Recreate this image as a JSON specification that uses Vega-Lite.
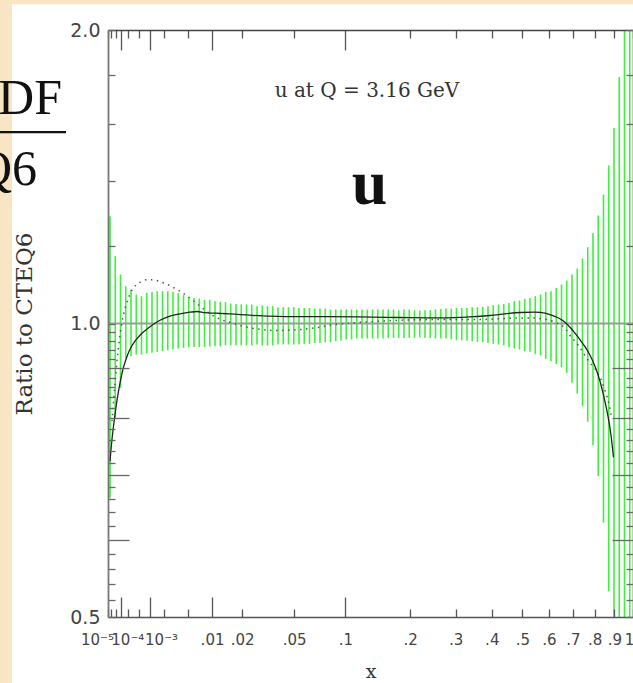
{
  "$schema": "https://vega.github.io/schema/vega-lite/v6.json",
  "width": 525,
  "height": 587,
  "autosize": {"type": "none"},
  "padding": {"left": 108, "top": 30, "right": 0, "bottom": 66},
  "background": "#f7e5c3",
  "config": {"view": {"stroke": null}},
  "datasets": {
    "bars": [
      {"x": 1.614e-5, "lo": 0.6624, "hi": 1.2884},
      {"x": 4.308e-5, "lo": 0.7996, "hi": 1.1723},
      {"x": 9.016e-5, "lo": 0.8589, "hi": 1.1227},
      {"x": 1.630e-4, "lo": 0.9220, "hi": 1.0921},
      {"x": 2.672e-4, "lo": 0.9257, "hi": 1.0836},
      {"x": 4.084e-4, "lo": 0.9294, "hi": 1.0709},
      {"x": 5.922e-4, "lo": 0.9294, "hi": 1.0666},
      {"x": 8.243e-4, "lo": 0.9316, "hi": 1.0750},
      {"x": 0.0011102, "lo": 0.9330, "hi": 1.0775},
      {"x": 0.0014556, "lo": 0.9352, "hi": 1.0792},
      {"x": 0.0018661, "lo": 0.9367, "hi": 1.0792},
      {"x": 0.0023473, "lo": 0.9389, "hi": 1.0792},
      {"x": 0.0029049, "lo": 0.9405, "hi": 1.0775},
      {"x": 0.0035444, "lo": 0.9427, "hi": 1.0742},
      {"x": 0.0042714, "lo": 0.9440, "hi": 1.0691},
      {"x": 0.0050918, "lo": 0.9456, "hi": 1.0649},
      {"x": 0.0060109, "lo": 0.9462, "hi": 1.0623},
      {"x": 0.0070344, "lo": 0.9462, "hi": 1.0608},
      {"x": 0.008168, "lo": 0.9462, "hi": 1.0573},
      {"x": 0.0094173, "lo": 0.9471, "hi": 1.0573},
      {"x": 0.010788, "lo": 0.9478, "hi": 1.0541},
      {"x": 0.012286, "lo": 0.9478, "hi": 1.0523},
      {"x": 0.013915, "lo": 0.9500, "hi": 1.0516},
      {"x": 0.015684, "lo": 0.9500, "hi": 1.0484},
      {"x": 0.017596, "lo": 0.9500, "hi": 1.0474},
      {"x": 0.019657, "lo": 0.9494, "hi": 1.0459},
      {"x": 0.021874, "lo": 0.9494, "hi": 1.0459},
      {"x": 0.024251, "lo": 0.9494, "hi": 1.0459},
      {"x": 0.026794, "lo": 0.9516, "hi": 1.0417},
      {"x": 0.029509, "lo": 0.9494, "hi": 1.0434},
      {"x": 0.032402, "lo": 0.9494, "hi": 1.0417},
      {"x": 0.035478, "lo": 0.9494, "hi": 1.0417},
      {"x": 0.038742, "lo": 0.9516, "hi": 1.0393},
      {"x": 0.042201, "lo": 0.9516, "hi": 1.0393},
      {"x": 0.04586, "lo": 0.9516, "hi": 1.0393},
      {"x": 0.049725, "lo": 0.9516, "hi": 1.0393},
      {"x": 0.053801, "lo": 0.9516, "hi": 1.0375},
      {"x": 0.058093, "lo": 0.9530, "hi": 1.0375},
      {"x": 0.062608, "lo": 0.9530, "hi": 1.0375},
      {"x": 0.067352, "lo": 0.9552, "hi": 1.0361},
      {"x": 0.072328, "lo": 0.9552, "hi": 1.0361},
      {"x": 0.077545, "lo": 0.9568, "hi": 1.0361},
      {"x": 0.083006, "lo": 0.9568, "hi": 1.0336},
      {"x": 0.088717, "lo": 0.9591, "hi": 1.0336},
      {"x": 0.094685, "lo": 0.9607, "hi": 1.0336},
      {"x": 0.100915, "lo": 0.9629, "hi": 1.0336},
      {"x": 0.107412, "lo": 0.9629, "hi": 1.0336},
      {"x": 0.114182, "lo": 0.9652, "hi": 1.0336},
      {"x": 0.121231, "lo": 0.9652, "hi": 1.0336},
      {"x": 0.128564, "lo": 0.9652, "hi": 1.0336},
      {"x": 0.136187, "lo": 0.9652, "hi": 1.0336},
      {"x": 0.144106, "lo": 0.9652, "hi": 1.0336},
      {"x": 0.152326, "lo": 0.9652, "hi": 1.0336},
      {"x": 0.160852, "lo": 0.9666, "hi": 1.0336},
      {"x": 0.169692, "lo": 0.9666, "hi": 1.0336},
      {"x": 0.178849, "lo": 0.9666, "hi": 1.0319},
      {"x": 0.18833, "lo": 0.9666, "hi": 1.0336},
      {"x": 0.198138, "lo": 0.9666, "hi": 1.0336},
      {"x": 0.208283, "lo": 0.9666, "hi": 1.0319},
      {"x": 0.218768, "lo": 0.9675, "hi": 1.0312},
      {"x": 0.2296, "lo": 0.9666, "hi": 1.0319},
      {"x": 0.240783, "lo": 0.9666, "hi": 1.0319},
      {"x": 0.252323, "lo": 0.9652, "hi": 1.0336},
      {"x": 0.264226, "lo": 0.9652, "hi": 1.0351},
      {"x": 0.276497, "lo": 0.9652, "hi": 1.0361},
      {"x": 0.289144, "lo": 0.9629, "hi": 1.0361},
      {"x": 0.30217, "lo": 0.9614, "hi": 1.0375},
      {"x": 0.315582, "lo": 0.9607, "hi": 1.0375},
      {"x": 0.329384, "lo": 0.9607, "hi": 1.0375},
      {"x": 0.343584, "lo": 0.9591, "hi": 1.0393},
      {"x": 0.358185, "lo": 0.9575, "hi": 1.0393},
      {"x": 0.373194, "lo": 0.9568, "hi": 1.0400},
      {"x": 0.388617, "lo": 0.9552, "hi": 1.0417},
      {"x": 0.404459, "lo": 0.9530, "hi": 1.0442},
      {"x": 0.420727, "lo": 0.9516, "hi": 1.0459},
      {"x": 0.437425, "lo": 0.9500, "hi": 1.0474},
      {"x": 0.454557, "lo": 0.9456, "hi": 1.0499},
      {"x": 0.472132, "lo": 0.9427, "hi": 1.0541},
      {"x": 0.490154, "lo": 0.9405, "hi": 1.0558},
      {"x": 0.50863, "lo": 0.9367, "hi": 1.0598},
      {"x": 0.527563, "lo": 0.9352, "hi": 1.0623},
      {"x": 0.546963, "lo": 0.9307, "hi": 1.0666},
      {"x": 0.56683, "lo": 0.9272, "hi": 1.0709},
      {"x": 0.587176, "lo": 0.9199, "hi": 1.0775},
      {"x": 0.608, "lo": 0.9149, "hi": 1.0792},
      {"x": 0.629308, "lo": 0.9090, "hi": 1.0877},
      {"x": 0.651109, "lo": 0.9020, "hi": 1.0964},
      {"x": 0.67341, "lo": 0.8899, "hi": 1.1068},
      {"x": 0.696213, "lo": 0.8692, "hi": 1.1227},
      {"x": 0.719528, "lo": 0.8476, "hi": 1.1387},
      {"x": 0.743358, "lo": 0.8225, "hi": 1.1659},
      {"x": 0.767705, "lo": 0.7928, "hi": 1.1974},
      {"x": 0.792578, "lo": 0.7502, "hi": 1.2378},
      {"x": 0.817985, "lo": 0.6973, "hi": 1.2904},
      {"x": 0.843927, "lo": 0.6246, "hi": 1.3563},
      {"x": 0.870415, "lo": 0.5314, "hi": 1.4523},
      {"x": 0.897448, "lo": 0.42, "hi": 1.5867},
      {"x": 0.925038, "lo": 0.3, "hi": 1.79},
      {"x": 0.953185, "lo": 0.25, "hi": 2.3},
      {"x": 0.981901, "lo": 0.2, "hi": 2.6}
    ],
    "solid": [
      {"x": 1.614e-5, "r": 0.7224},
      {"x": 2.4386e-5, "r": 0.7609},
      {"x": 3.5049e-5, "r": 0.7921},
      {"x": 4.8443e-5, "r": 0.8206},
      {"x": 6.4873e-5, "r": 0.8462},
      {"x": 8.4652e-5, "r": 0.8685},
      {"x": 1.2129e-4, "r": 0.8977},
      {"x": 1.6720e-4, "r": 0.9192},
      {"x": 2.4468e-4, "r": 0.9411},
      {"x": 3.7114e-4, "r": 0.9591},
      {"x": 5.3505e-4, "r": 0.9728},
      {"x": 7.4124e-4, "r": 0.9831},
      {"x": 9.9461e-4, "r": 0.9925},
      {"x": 1.6622e-3, "r": 1.0078},
      {"x": 2.5766e-3, "r": 1.0174},
      {"x": 3.7768e-3, "r": 1.0229},
      {"x": 5.3015e-3, "r": 1.0270},
      {"x": 6.5827e-3, "r": 1.0288},
      {"x": 8.2819e-3, "r": 1.0258},
      {"x": 0.010788, "r": 1.0246},
      {"x": 0.015423, "r": 1.0229},
      {"x": 0.02344, "r": 1.0198},
      {"x": 0.033843, "r": 1.0174},
      {"x": 0.054601, "r": 1.0162},
      {"x": 0.082474, "r": 1.0162},
      {"x": 0.118513, "r": 1.0157},
      {"x": 0.181075, "r": 1.0143},
      {"x": 0.262503, "r": 1.0133},
      {"x": 0.337449, "r": 1.0157},
      {"x": 0.394603, "r": 1.0191},
      {"x": 0.441464, "r": 1.0229},
      {"x": 0.491894, "r": 1.0263},
      {"x": 0.54603, "r": 1.0270},
      {"x": 0.584238, "r": 1.0246},
      {"x": 0.616059, "r": 1.0186},
      {"x": 0.644829, "r": 1.0114},
      {"x": 0.665921, "r": 1.0031},
      {"x": 0.687467, "r": 0.9913},
      {"x": 0.709474, "r": 0.9774},
      {"x": 0.731944, "r": 0.9625},
      {"x": 0.754886, "r": 0.9467},
      {"x": 0.7783, "r": 0.9279},
      {"x": 0.802195, "r": 0.9041},
      {"x": 0.826572, "r": 0.8726},
      {"x": 0.846427, "r": 0.8403},
      {"x": 0.866598, "r": 0.8033},
      {"x": 0.881933, "r": 0.7681},
      {"x": 0.894849, "r": 0.7292}
    ],
    "dotted": [
      {"x": 2.4386e-5, "r": 0.7939},
      {"x": 3.2142e-5, "r": 0.8304},
      {"x": 4.1386e-5, "r": 0.8685},
      {"x": 5.3831e-5, "r": 0.9084},
      {"x": 6.7617e-5, "r": 0.9411},
      {"x": 8.4652e-5, "r": 0.9728},
      {"x": 1.0810e-4, "r": 1.0031},
      {"x": 1.3550e-4, "r": 1.0258},
      {"x": 1.6720e-4, "r": 1.0442},
      {"x": 2.1332e-4, "r": 1.0628},
      {"x": 2.9108e-4, "r": 1.0818},
      {"x": 4.0077e-4, "r": 1.0947},
      {"x": 5.7276e-4, "r": 1.1038},
      {"x": 8.3667e-4, "r": 1.1090},
      {"x": 1.1713e-3, "r": 1.1090},
      {"x": 1.6622e-3, "r": 1.1038},
      {"x": 2.2553e-3, "r": 1.0973},
      {"x": 2.8828e-3, "r": 1.0895},
      {"x": 3.7768e-3, "r": 1.0793},
      {"x": 5.3015e-3, "r": 1.0616},
      {"x": 7.1895e-3, "r": 1.0417},
      {"x": 9.4799e-3, "r": 1.0234},
      {"x": 0.012211, "r": 1.0102},
      {"x": 0.015423, "r": 1.0031},
      {"x": 0.022093, "r": 0.9913},
      {"x": 0.028324, "r": 0.9866},
      {"x": 0.036853, "r": 0.9836},
      {"x": 0.046943, "r": 0.9843},
      {"x": 0.054601, "r": 0.9859},
      {"x": 0.067584, "r": 0.9897},
      {"x": 0.082474, "r": 0.9960},
      {"x": 0.111894, "r": 1.0019},
      {"x": 0.147592, "r": 1.0055},
      {"x": 0.181075, "r": 1.0078},
      {"x": 0.219275, "r": 1.0090},
      {"x": 0.286098, "r": 1.0095},
      {"x": 0.36528, "r": 1.0095},
      {"x": 0.45787, "r": 1.0126},
      {"x": 0.527563, "r": 1.0133},
      {"x": 0.584238, "r": 1.0102},
      {"x": 0.623893, "r": 1.0031},
      {"x": 0.665921, "r": 0.9890},
      {"x": 0.683123, "r": 0.9751},
      {"x": 0.727412, "r": 0.9478},
      {"x": 0.768875, "r": 0.9170},
      {"x": 0.826572, "r": 0.8809},
      {"x": 0.851441, "r": 0.8542},
      {"x": 0.87169, "r": 0.8265},
      {"x": 0.887086, "r": 0.7977}
    ]
  },
  "layer": [
    {
      "data": {"values": [{}]},
      "mark": {"type": "rect", "fill": "#ffffff", "clip": false},
      "encoding": {
        "x": {"datum": -0.003897, "type": "quantitative", "scale": {"type": "pow", "exponent": 0.3333333, "domain": [0.00001, 1], "nice": false, "zero": false}, "axis": null},
        "x2": {"datum": 3},
        "y": {"datum": 2.1257, "type": "quantitative", "scale": {"type": "log", "domain": [0.5, 2], "nice": false}, "axis": null},
        "y2": {"datum": 0.3}
      }
    },
    {
      "data": {"name": "bars"},
      "mark": {"type": "rule", "color": "#3cf23c", "strokeWidth": 1.6, "clip": true},
      "encoding": {
        "x": {
          "field": "x", "type": "quantitative",
          "scale": {"type": "pow", "exponent": 0.3333333, "domain": [0.00001, 1], "nice": false, "zero": false},
          "axis": {
            "orient": "bottom", "zindex": 1, "grid": false,
            "values": [0.00001, 0.00002, 0.00005, 0.0001, 0.0002, 0.0005, 0.001, 0.002, 0.005, 0.01, 0.02, 0.05, 0.1, 0.2, 0.3, 0.4, 0.5, 0.6, 0.7, 0.8, 0.9, 1],
            "labelExpr": "abs(datum.value-0.00001)<1e-9 ? '10⁻⁵' : abs(datum.value-0.0001)<1e-8 ? '10⁻⁴' : abs(datum.value-0.001)<1e-7 ? '10⁻³' : datum.value<0.0099 ? '' : datum.value>0.999 ? '1' : replace(format(datum.value,'.2~f'),'0.','.')",
            "labelFlush": false, "labelOverlap": false, "labelBound": false,
            "labelFont": "DejaVu Sans", "labelFontSize": 15, "labelColor": "#444",
            "tickSize": {"condition": {"test": "datum.value > 0.00005 && datum.value < 0.5 && abs(log(datum.value)/LN10 - round(log(datum.value)/LN10)) < 0.01", "value": -20}, "value": -8},
            "labelPadding": {"condition": {"test": "datum.value > 0.00005 && datum.value < 0.5 && abs(log(datum.value)/LN10 - round(log(datum.value)/LN10)) < 0.01", "value": 35}, "value": 23},
            "labelOffset": {"condition": [
              {"test": "datum.value < 0.000015", "value": -11},
              {"test": "datum.value > 0.00009 && datum.value < 0.00011", "value": 6},
              {"test": "datum.value > 0.0009 && datum.value < 0.0011", "value": 11},
              {"test": "datum.value > 0.99", "value": -4}
            ], "value": 0},
            "tickColor": "#555", "tickWidth": 1.3,
            "domainColor": "#555", "domainWidth": 1.5,
            "title": "x", "titleFont": "DejaVu Serif", "titleFontSize": 19, "titleFontWeight": "normal", "titleColor": "#333", "titlePadding": 15
          }
        },
        "y": {
          "field": "lo", "type": "quantitative",
          "scale": {"type": "log", "domain": [0.5, 2], "nice": false},
          "axis": {
            "orient": "left", "zindex": 1, "grid": false,
            "values": [0.5, 0.52, 0.54, 0.56, 0.58, 0.6, 0.62, 0.64, 0.66, 0.68, 0.7, 0.72, 0.74, 0.76, 0.78, 0.8, 0.82, 0.84, 0.86, 0.88, 0.9, 0.92, 0.94, 0.96, 0.98, 1, 1.2, 1.4, 1.6, 1.8, 2],
            "labelExpr": "abs(datum.value-0.5)<0.001 ? '0.5' : abs(datum.value-1)<0.001 ? '1.0' : abs(datum.value-2)<0.001 ? '2.0' : ''",
            "labelFlush": false, "labelOverlap": false, "labelBound": false,
            "labelFont": "DejaVu Sans", "labelFontSize": 19, "labelColor": "#444",
            "tickSize": {"condition": {"test": "abs(datum.value-0.6)<0.001 || abs(datum.value-0.7)<0.001 || abs(datum.value-0.8)<0.001 || abs(datum.value-0.9)<0.001", "value": -21}, "value": -7},
            "labelPadding": 15,
            "tickColor": "#666", "tickWidth": 1.3,
            "domainColor": "#777", "domainWidth": 1.8,
            "title": "Ratio to CTEQ6", "titleFont": "DejaVu Serif", "titleFontSize": 23, "titleFontWeight": "normal", "titleColor": "#333", "titlePadding": 33
          }
        },
        "y2": {"field": "hi"}
      }
    },
    {
      "data": {"values": [{}]},
      "mark": {"type": "rule", "color": "#999999", "strokeWidth": 2.2},
      "encoding": {
        "y": {"datum": 1, "type": "quantitative", "scale": {"type": "log", "domain": [0.5, 2], "nice": false}, "axis": null}
      }
    },
    {
      "data": {"name": "dotted"},
      "mark": {"type": "line", "color": "#555", "strokeWidth": 1.5, "strokeDash": [1.5, 4.5], "interpolate": "monotone"},
      "encoding": {
        "x": {"field": "x", "type": "quantitative", "scale": {"type": "pow", "exponent": 0.3333333, "domain": [0.00001, 1], "nice": false, "zero": false}, "axis": null},
        "y": {"field": "r", "type": "quantitative", "scale": {"type": "log", "domain": [0.5, 2], "nice": false}, "axis": null}
      }
    },
    {
      "data": {"name": "solid"},
      "mark": {"type": "line", "color": "#222", "strokeWidth": 1.3, "interpolate": "monotone"},
      "encoding": {
        "x": {
          "field": "x", "type": "quantitative",
          "scale": {"type": "pow", "exponent": 0.3333333, "domain": [0.00001, 1], "nice": false, "zero": false},
          "axis": {
            "orient": "top", "zindex": 1, "grid": false, "labels": false, "title": null,
            "values": [0.00001, 0.00002, 0.00005, 0.0001, 0.0002, 0.0005, 0.001, 0.002, 0.005, 0.01, 0.02, 0.05, 0.1, 0.2, 0.3, 0.4, 0.5, 0.6, 0.7, 0.8, 0.9, 1],
            "tickSize": {"condition": {"test": "datum.value > 0.00005 && datum.value < 0.5 && abs(log(datum.value)/LN10 - round(log(datum.value)/LN10)) < 0.01", "value": -20}, "value": -8},
            "tickColor": "#555", "tickWidth": 1.3,
            "domainColor": "#444", "domainWidth": 1.5
          }
        },
        "y": {
          "field": "r", "type": "quantitative",
          "scale": {"type": "log", "domain": [0.5, 2], "nice": false},
          "axis": {
            "orient": "right", "zindex": 1, "grid": false, "labels": false, "title": null,
            "values": [0.5, 0.52, 0.54, 0.56, 0.58, 0.6, 0.62, 0.64, 0.66, 0.68, 0.7, 0.72, 0.74, 0.76, 0.78, 0.8, 0.82, 0.84, 0.86, 0.88, 0.9, 0.92, 0.94, 0.96, 0.98, 1, 1.2, 1.4, 1.6, 1.8, 2],
            "tickSize": {"condition": {"test": "abs(datum.value-0.6)<0.001 || abs(datum.value-0.7)<0.001 || abs(datum.value-0.8)<0.001 || abs(datum.value-0.9)<0.001", "value": -21}, "value": -7},
            "tickColor": "#666", "tickWidth": 1.3,
            "domainColor": "#777", "domainWidth": 1.8
          }
        }
      }
    },
    {
      "data": {"values": [{}]},
      "mark": {"type": "text", "text": "u at Q = 3.16 GeV", "font": "DejaVu Serif", "fontSize": 20, "align": "center", "baseline": "alphabetic", "color": "#333"},
      "encoding": {
        "x": {"datum": 0.1282, "type": "quantitative", "scale": {"type": "pow", "exponent": 0.3333333, "domain": [0.00001, 1], "nice": false, "zero": false}, "axis": null},
        "y": {"datum": 1.7065, "type": "quantitative", "scale": {"type": "log", "domain": [0.5, 2], "nice": false}, "axis": null}
      }
    },
    {
      "data": {"values": [{}]},
      "mark": {"type": "text", "text": "u", "font": "Liberation Serif", "fontSize": 64, "fontWeight": "bold", "align": "center", "baseline": "alphabetic", "color": "#111"},
      "encoding": {
        "x": {"datum": 0.13179, "type": "quantitative", "scale": {"type": "pow", "exponent": 0.3333333, "domain": [0.00001, 1], "nice": false, "zero": false}, "axis": null},
        "y": {"datum": 1.3255, "type": "quantitative", "scale": {"type": "log", "domain": [0.5, 2], "nice": false}, "axis": null}
      }
    },
    {
      "data": {"values": [{}]},
      "mark": {"type": "text", "text": "PDF", "font": "Liberation Serif", "fontSize": 50, "align": "right", "baseline": "alphabetic", "color": "#111", "clip": false},
      "encoding": {
        "x": {"datum": -0.0002645, "type": "quantitative", "scale": {"type": "pow", "exponent": 0.3333333, "domain": [0.00001, 1], "nice": false, "zero": false}, "axis": null},
        "y": {"datum": 1.6394, "type": "quantitative", "scale": {"type": "log", "domain": [0.5, 2], "nice": false}, "axis": null}
      }
    },
    {
      "data": {"values": [{}]},
      "mark": {"type": "text", "text": "CTEQ6", "font": "Liberation Serif", "fontSize": 50, "align": "right", "baseline": "alphabetic", "color": "#111", "clip": false},
      "encoding": {
        "x": {"datum": -0.0013596, "type": "quantitative", "scale": {"type": "pow", "exponent": 0.3333333, "domain": [0.00001, 1], "nice": false, "zero": false}, "axis": null},
        "y": {"datum": 1.3879, "type": "quantitative", "scale": {"type": "log", "domain": [0.5, 2], "nice": false}, "axis": null}
      }
    },
    {
      "data": {"values": [{}]},
      "mark": {"type": "rule", "color": "#111", "strokeWidth": 2.2, "clip": false},
      "encoding": {
        "x": {"datum": -0.006, "type": "quantitative", "scale": {"type": "pow", "exponent": 0.3333333, "domain": [0.00001, 1], "nice": false, "zero": false}, "axis": null},
        "x2": {"datum": -0.0001826},
        "y": {"datum": 1.5711, "type": "quantitative", "scale": {"type": "log", "domain": [0.5, 2], "nice": false}, "axis": null}
      }
    }
  ],
  "resolve": {"axis": {"x": "independent", "y": "independent"}}
}
